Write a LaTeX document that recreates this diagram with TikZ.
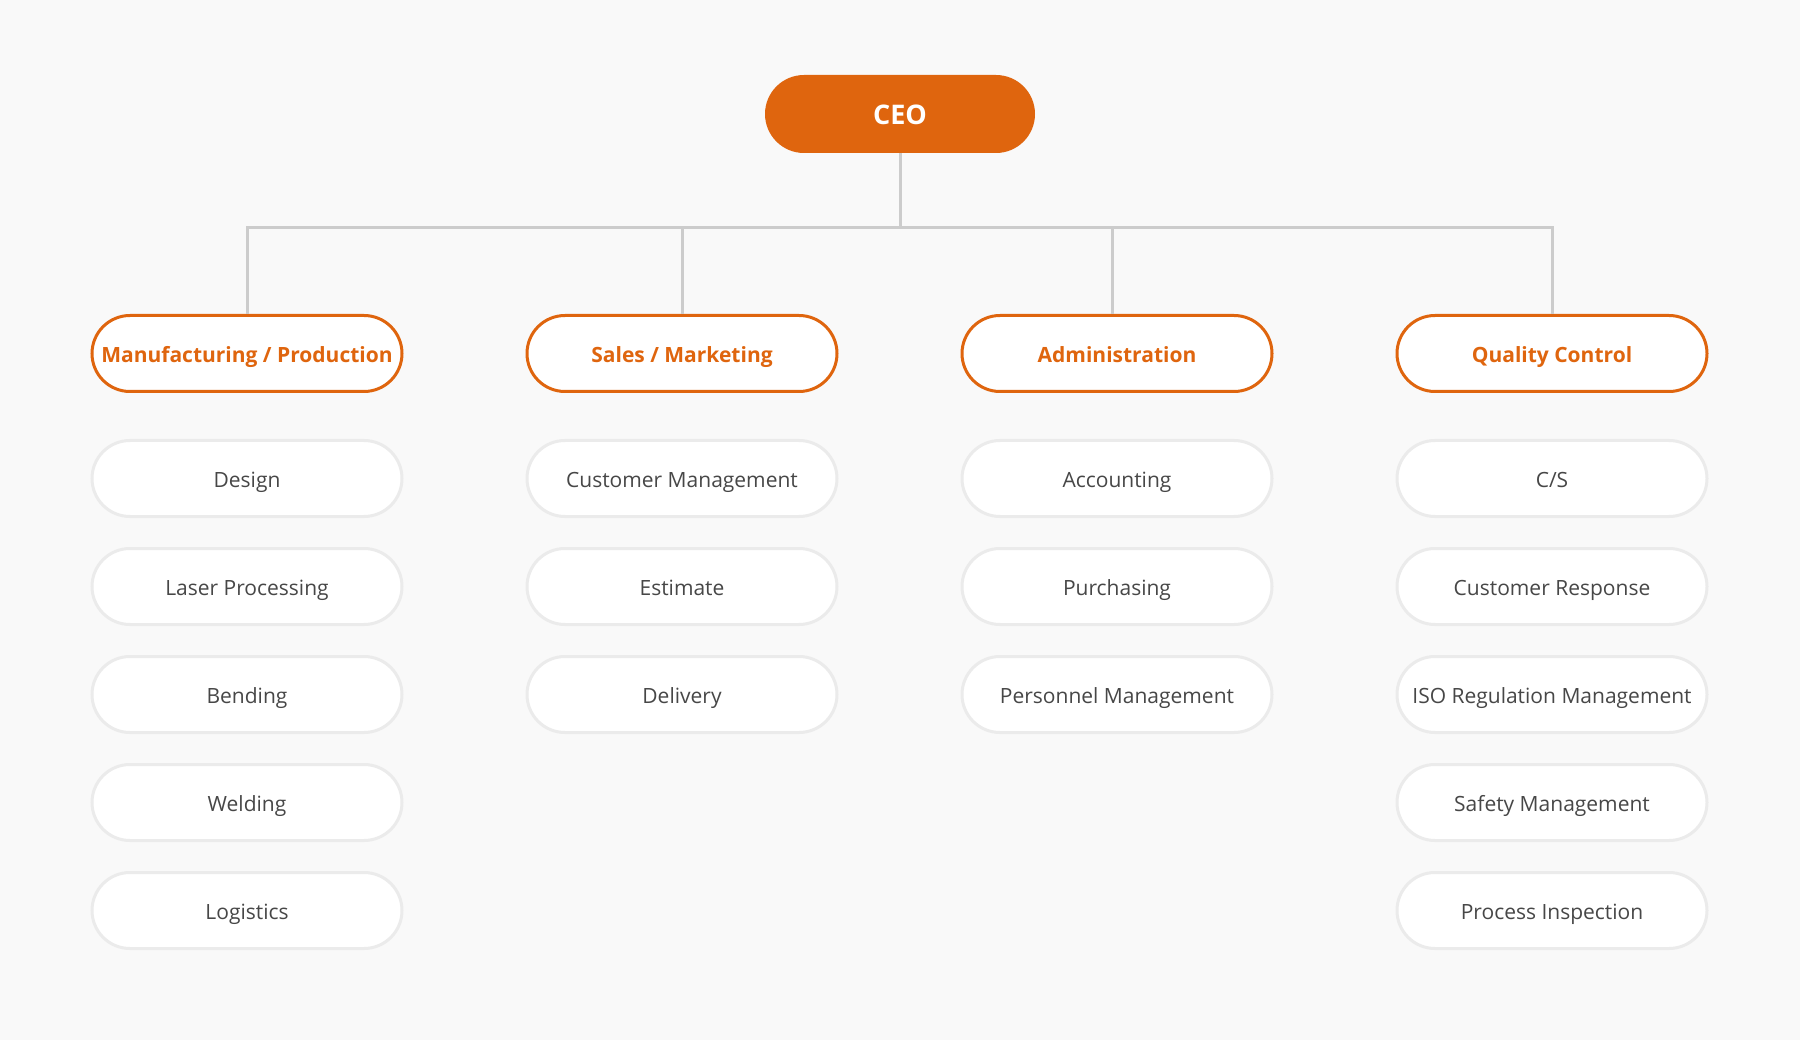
\documentclass[tikz,border=0pt]{standalone}
\usepackage{fontspec}
\setmainfont{Open Sans}
\usetikzlibrary{positioning}

\definecolor{ceoorange}{HTML}{DF650E}
\definecolor{linkgray}{HTML}{CCCCCC}
\definecolor{boxline}{HTML}{EBEBEB}
\definecolor{labelgray}{HTML}{474747}
\definecolor{pagebg}{HTML}{F9F9F9}

\begin{document}
\begin{tikzpicture}[
    x=1pt, y=-1pt,
    node distance=29pt,
    ceobox/.style={rectangle, fill=ceoorange, text=white, minimum width=270pt, minimum height=78pt, rounded corners=39pt, text height=21pt, text depth=0pt, font=\fontsize{27}{32}\selectfont\bfseries},
    dept/.style={rectangle, draw=ceoorange, line width=3pt, fill=white, text=ceoorange, minimum width=310pt, minimum height=76pt, rounded corners=38pt, text height=19.5pt, text depth=1.5pt, font=\fontsize{21}{26}\selectfont\bfseries},
    unit/.style={rectangle, draw=boxline, line width=3pt, fill=white, text=labelgray, minimum width=310pt, minimum height=76pt, rounded corners=38pt, text height=19.5pt, text depth=1.5pt, font=\fontsize{21}{26}\selectfont},
    link/.style={draw=linkgray, line width=3pt}
]
\useasboundingbox[fill=pagebg] (0,0) rectangle (1800,1040);

\node[ceobox] (ceo) at (900,114) {CEO};
\coordinate (bus) at (900,228);

\node[dept] (mfg) at (247,353.5) {Manufacturing / Production};
\node[dept] (sales) at (682,353.5) {Sales / Marketing};
\node[dept] (admin) at (1117,353.5) {Administration};
\node[dept] (qc) at (1552,353.5) {Quality Control};

\node[unit, below=46pt of mfg] (design) {Design};
\node[unit, below=of design] (laser) {Laser Processing};
\node[unit, below=of laser] (bending) {Bending};
\node[unit, below=of bending] (welding) {Welding};
\node[unit, below=of welding] (logistics) {Logistics};

\node[unit, below=46pt of sales] (custmgmt) {Customer Management};
\node[unit, below=of custmgmt] (estimate) {Estimate};
\node[unit, below=of estimate] (delivery) {Delivery};

\node[unit, below=46pt of admin] (accounting) {Accounting};
\node[unit, below=of accounting] (purchasing) {Purchasing};
\node[unit, below=of purchasing] (personnel) {Personnel Management};

\node[unit, below=46pt of qc] (cs) {C/S};
\node[unit, below=of cs] (response) {Customer Response};
\node[unit, below=of response] (iso) {ISO Regulation Management};
\node[unit, below=of iso] (safety) {Safety Management};
\node[unit, below=of safety] (inspection) {Process Inspection};

\draw[link] (mfg.north) -- (mfg.north |- bus) -| (ceo.south);
\draw[link] (sales.north) -- (sales.north |- bus) -| (ceo.south);
\draw[link] ([xshift=-5pt]admin.north) -- ([xshift=-5pt]admin.north |- bus) -| (ceo.south);
\draw[link] (qc.north) -- (qc.north |- bus) -| (ceo.south);
\end{tikzpicture}
\end{document}
